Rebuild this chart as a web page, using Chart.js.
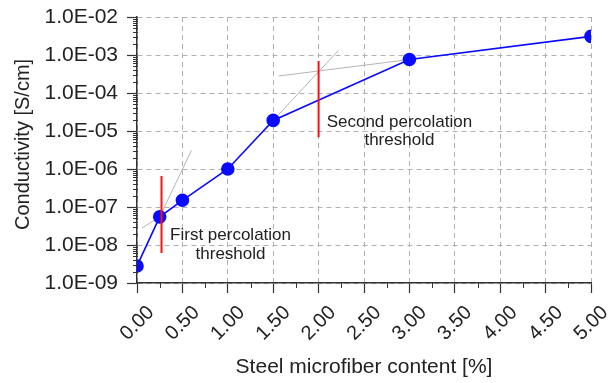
<!DOCTYPE html>
<html>
<head>
<meta charset="utf-8">
<script src="https://cdn.jsdelivr.net/npm/chart.js@4"></script>
<style>
  html, body { margin: 0; padding: 0; background: #ffffff; }
  #wrap { width: 609px; height: 383px; }
</style>
</head>
<body>
<div id="wrap"><canvas id="c" width="609" height="383"></canvas></div>
<script>
// Measured conductivity vs. steel microfiber content
const fiberContent = [0.00, 0.25, 0.50, 1.00, 1.50, 3.00, 5.00];
const conductivity = [2.8e-9, 5.5e-8, 1.5e-7, 1.0e-6, 1.9e-5, 7.6e-4, 3.1e-3];

// Tangent construction lines around each threshold
const tangent1aX = [0.25, 0.60];
const tangent1aY = [5.5e-8, 3.1e-6];
const tangent1bX = [0.055, 0.25];
const tangent1bY = [2.8e-8, 5.5e-8];
const tangent2aX = [1.50, 2.22];
const tangent2aY = [1.9e-5, 1.33e-3];
const tangent2bX = [1.56, 3.00];
const tangent2bY = [2.8e-4, 7.6e-4];

// Threshold markers
const threshold1X = [0.27, 0.27];
const threshold1Y = [6.5e-7, 6.2e-9];
const threshold2X = [2.00, 2.00];
const threshold2Y = [7.0e-4, 6.8e-6];

// Axis ticks
const yTickValues = [1e-9, 1e-8, 1e-7, 1e-6, 1e-5, 1e-4, 1e-3, 1e-2];
const xTickStep = 0.5;
const xMinorStep = 0.25;

// Annotation labels: x, baseline of the first line, text lines
const notes = [
  { x: 1.03, y: 1.35e-8, lines: ['First percolation', 'threshold'] },
  { x: 2.89, y: 1.29e-5, lines: ['Second percolation', 'threshold'] }
];

const toPoints = (xs, ys) => xs.map((x, i) => ({ x: x, y: ys[i] }));

const FONT = 'Liberation Sans, Arial, sans-serif';
const TEXT = '#222222';
const AXIS = '#333333';

function sciLabel(v) {
  const e = Math.round(Math.log10(v));
  return '1.0E' + (e < 0 ? '-' : '+') + String(Math.abs(e)).padStart(2, '0');
}

const guide = (xs, ys) => ({
  data: toPoints(xs, ys), borderColor: '#b4b4b4', borderWidth: 1,
  pointRadius: 0, order: 3, tension: 0
});
const marker = (xs, ys) => ({
  data: toPoints(xs, ys), borderColor: '#ff1010', borderWidth: 2,
  pointRadius: 0, order: 1, tension: 0
});

// Keep the plot frame fixed regardless of label overhang
function noOverhang(s) {
  s.paddingLeft = 0; s.paddingRight = 0; s.paddingTop = 0; s.paddingBottom = 0;
}

// Minor ticks on both axes plus the text annotations
const extras = {
  id: 'extras',
  afterDatasetsDraw(chart) {
    const ctx = chart.ctx;
    const xs = chart.scales.x, ys = chart.scales.y;
    ctx.save();
    ctx.strokeStyle = AXIS;
    ctx.lineWidth = 1;
    const axX = ys.right;
    for (let e = -9; e < -2; e++) {
      for (let k = 2; k <= 9; k++) {
        const py = Math.round(ys.getPixelForValue(k * Math.pow(10, e))) + 0.5;
        ctx.beginPath(); ctx.moveTo(axX - 4, py); ctx.lineTo(axX + 1, py); ctx.stroke();
      }
    }
    const axY = xs.top;
    for (let v = xMinorStep; v < xs.max; v += xTickStep) {
      const px = Math.round(xs.getPixelForValue(v)) + 0.5;
      ctx.beginPath(); ctx.moveTo(px, axY); ctx.lineTo(px, axY + 5); ctx.stroke();
    }
    ctx.fillStyle = TEXT;
    ctx.font = '17px ' + FONT;
    ctx.textAlign = 'center';
    ctx.textBaseline = 'alphabetic';
    notes.forEach(n => {
      const px = xs.getPixelForValue(n.x);
      const py = ys.getPixelForValue(n.y);
      n.lines.forEach((t, i) => ctx.fillText(t, px, py + i * 18.5));
    });
    ctx.restore();
  }
};

new Chart(document.getElementById('c'), {
  type: 'line',
  data: {
    datasets: [
      {
        data: toPoints(fiberContent, conductivity),
        borderColor: '#0a0aff', backgroundColor: '#0a0aff', borderWidth: 1.6,
        pointRadius: 6, pointHoverRadius: 6, order: 2, tension: 0
      },
      guide(tangent1aX, tangent1aY),
      guide(tangent1bX, tangent1bY),
      guide(tangent2aX, tangent2aY),
      guide(tangent2bX, tangent2bY),
      marker(threshold1X, threshold1Y),
      marker(threshold2X, threshold2Y)
    ]
  },
  options: {
    responsive: false,
    animation: false,
    events: [],
    layout: { padding: { left: 0, right: 18, top: 17, bottom: 0 } },
    plugins: { legend: { display: false }, tooltip: { enabled: false } },
    scales: {
      x: {
        type: 'linear', min: 0, max: 5,
        afterFit: s => { s.height = 100; noOverhang(s); },
        grid: { color: '#b0b0b0', lineWidth: 1, tickLength: 10, tickColor: AXIS, tickWidth: 1.2 },
        border: { display: true, color: AXIS, width: 1.5, dash: [5, 4] },
        ticks: {
          stepSize: xTickStep, minRotation: 45, maxRotation: 45, autoSkip: false,
          labelOffset: 14, padding: 8,
          color: TEXT, font: { family: FONT, size: 20 },
          callback: v => Number(v).toFixed(2)
        },
        title: { display: true, text: 'Steel microfiber content [%]', color: TEXT,
          font: { family: FONT, size: 21 }, padding: { top: 0, bottom: 3 } }
      },
      y: {
        type: 'logarithmic', min: 1e-9, max: 1e-2,
        afterFit: s => { s.width = 137; noOverhang(s); },
        afterBuildTicks: s => { s.ticks = yTickValues.map(v => ({ value: v, major: true })); },
        grid: { color: '#b0b0b0', lineWidth: 1, tickLength: 10, tickColor: AXIS, tickWidth: 1.2 },
        border: { display: true, color: AXIS, width: 1.5, dash: [5, 4] },
        ticks: {
          color: TEXT, font: { family: FONT, size: 21 }, padding: 9,
          callback: v => sciLabel(v)
        },
        title: { display: true, text: '  Conductivity [S/cm]', color: TEXT,
          font: { family: FONT, size: 20 }, padding: { top: 11, bottom: 0 } }
      }
    }
  },
  plugins: [extras]
});
</script>
</body>
</html>
